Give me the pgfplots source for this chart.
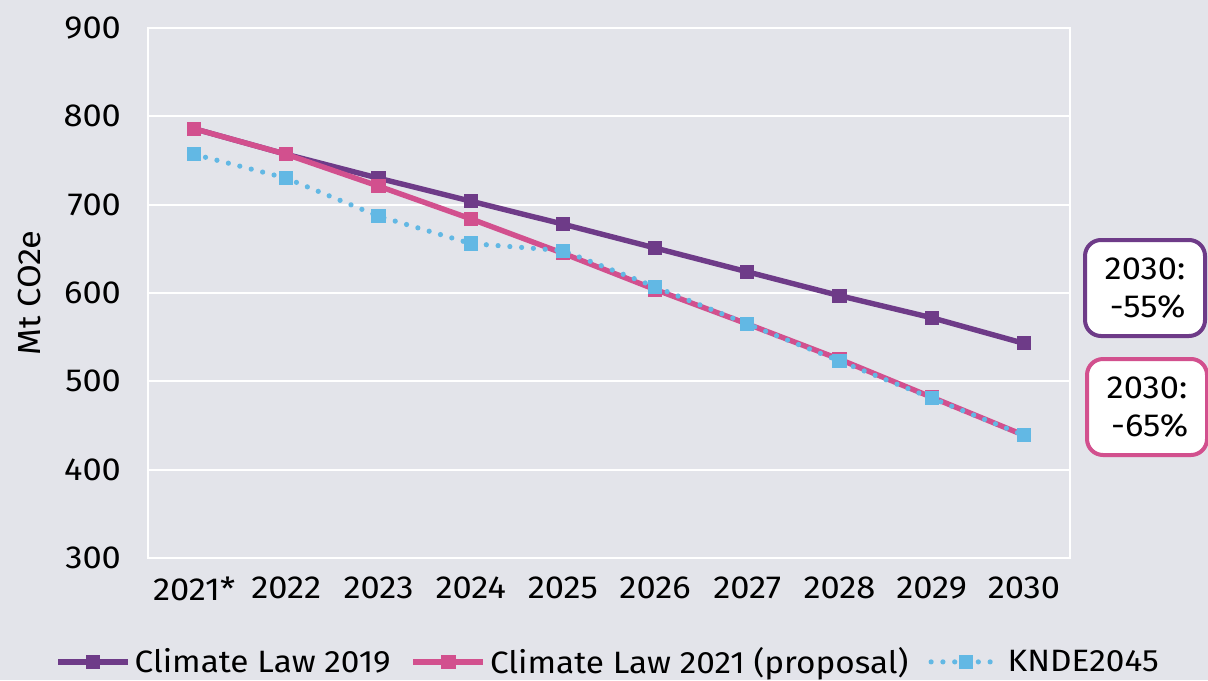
\documentclass[border=0pt]{standalone}
\usepackage{fontspec}
\setmainfont{Fira Sans}[FakeStretch=1.08]
\usepackage{pgfplots}
\pgfplotsset{compat=1.18}
\definecolor{bg}{HTML}{E3E4EA}
\definecolor{cpurple}{HTML}{6E3B88}
\definecolor{cpink}{HTML}{D2508E}
\definecolor{cblue}{HTML}{62B8E4}
\begin{document}
\begin{tikzpicture}[x=1bp,y=1bp]
\path[use as bounding box, fill=bg] (-74,-61) rectangle (530,279);
\begin{axis}[
  at={(0,0)}, anchor=south west,
  scale only axis, width=461bp, height=265bp,
  xmin=-0.5, xmax=9.5, ymin=300, ymax=900,
  axis line style={white, line width=1bp},
  ymajorgrids, grid style={white, line width=1bp},
  ytick={300,400,...,900},
  xtick={0,...,9},
  xticklabels={2021*,2022,2023,2024,2025,2026,2027,2028,2029,2030},
  major tick length=0pt, tick style={draw=none},
  font=\fontsize{16}{19}\selectfont,
  /pgf/number format/assume math mode=true,
  yticklabel style={xshift=-10bp},
  xticklabel style={yshift=-6bp},
  ylabel={Mt CO2e},
  every axis y label/.style={at={(axis description cs:-0.128,0.5)}, rotate=90, anchor=center, font=\fontsize{16}{19}\selectfont},
  legend style={at={(0.5,-0.196)}, anchor=center, draw=none, fill=none, legend columns=3,
    /tikz/every even column/.append style={column sep=8bp}, font=\fontsize{15.5}{18}\selectfont},
  legend cell align=left,
  legend image code/.code={\draw[mark repeat=2,mark phase=2,#1] plot coordinates {(0bp,0bp) (17.5bp,0bp) (35bp,0bp)};},
]
\addplot[cpurple, line width=2.7bp, mark=square*, mark size=3.3bp, mark options={solid, fill=cpurple, draw=cpurple, line width=0pt}]
  coordinates {(0,786) (1,757) (2,730) (3,704) (4,678) (5,651) (6,624) (7,597) (8,572) (9,543)};
\addlegendentry{Climate Law 2019}
\addplot[cpink, line width=2.7bp, mark=square*, mark size=3.3bp, mark options={solid, fill=cpink, draw=cpink, line width=0pt}]
  coordinates {(0,786) (1,757) (2,721) (3,684) (4,645) (5,604) (6,565) (7,525) (8,482) (9,439)};
\addlegendentry{Climate Law 2021 (proposal)}
\addplot[cblue, line width=2.6bp, line cap=round, dash pattern=on 0bp off 5.9bp, mark=square*, mark size=3.3bp, mark options={solid, fill=cblue, draw=cblue, line width=0pt}]
  coordinates {(0,757) (1,730) (2,687) (3,656) (4,648) (5,607) (6,565) (7,523) (8,481) (9,439)};
\addlegendentry{KNDE2045}
\end{axis}
\node[draw=cpurple, line width=2bp, fill=white, rounded corners=8bp, minimum width=60bp, minimum height=48bp, align=center, inner sep=2bp, font=\fontsize{16}{19}\selectfont] at (498.5,135) {2030:\\ \,-55\%};
\node[draw=cpink, line width=2bp, fill=white, rounded corners=8bp, minimum width=60bp, minimum height=48bp, align=center, inner sep=2bp, font=\fontsize{16}{19}\selectfont] at (499.5,75.5) {2030:\\ \,-65\%};
\end{tikzpicture}
\end{document}
